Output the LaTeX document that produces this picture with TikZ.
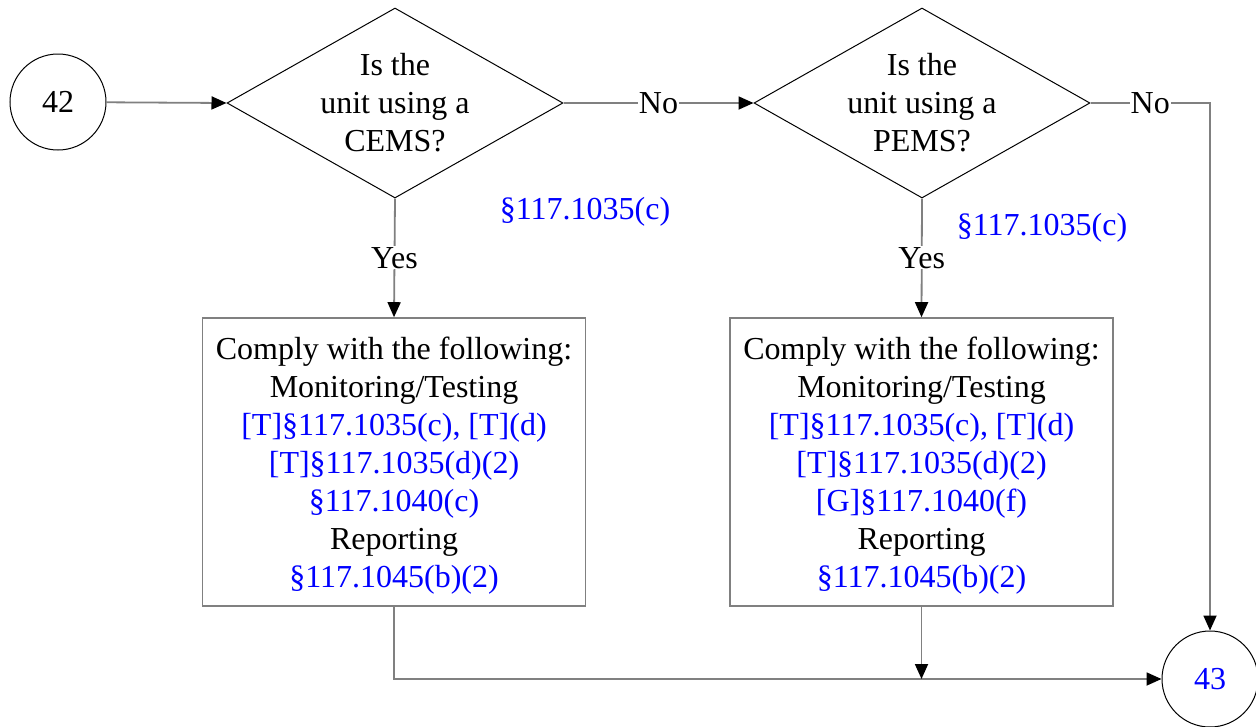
\documentclass[tikz,border=0pt]{standalone}
\usepackage{fontspec}
\setmainfont{Liberation Serif}
\usetikzlibrary{shapes.geometric,arrows.meta}
\definecolor{refblue}{RGB}{0,0,255}
\definecolor{linegray}{RGB}{128,128,128}
\tikzset{
  txt/.style={font=\fontsize{32}{38}\selectfont, align=center},
  term/.style={circle, draw=black, line width=1pt, minimum size=96pt, inner sep=0pt, txt},
  decision/.style={diamond, draw=black, line width=1pt, minimum width=336pt, minimum height=190pt, inner sep=0pt},
  actbox/.style={rectangle, draw=linegray, line width=1.6pt, minimum width=383pt, minimum height=288pt, inner sep=0pt},
  conn/.style={draw=linegray, line width=1.8pt, -{Triangle[length=15pt,width=13pt,color=black]}},
  lbl/.style={txt, fill=white, inner sep=1pt},
  ref/.style={txt, text=refblue}
}
\begin{document}
\begin{tikzpicture}[x=1pt,y=-1pt]
\useasboundingbox (0,0) rectangle (1256,726);
\node[term] (c42) at (58,102) {42};
\node[decision] (d1) at (395,103) {};
\node[txt] (t1) at (395,103) {Is the\\unit using a\\CEMS?};
\node[decision] (d2) at (922,103) {};
\node[txt] (t2) at (922,103) {Is the\\unit using a\\PEMS?};
\node[term, text=refblue] (c43) at (1210,679) {43};
\node[actbox] (b1) at (394,462) {};
\node[txt] (bt1) at (394,466) {Comply with the following:\\Monitoring/Testing\\\textcolor{refblue}{[T]§117.1035(c), [T](d)}\\\textcolor{refblue}{[T]§117.1035(d)(2)}\\\textcolor{refblue}{§117.1040(c)}\\Reporting\\\textcolor{refblue}{§117.1045(b)(2)}};
\node[actbox] (b2) at (921.5,462) {};
\node[txt] (bt2) at (921.5,466) {Comply with the following:\\Monitoring/Testing\\\textcolor{refblue}{[T]§117.1035(c), [T](d)}\\\textcolor{refblue}{[T]§117.1035(d)(2)}\\\textcolor{refblue}{[G]§117.1040(f)}\\Reporting\\\textcolor{refblue}{§117.1045(b)(2)}};
\node[ref] (r1) at (585,212) {§117.1035(c)};
\node[ref] (r2) at (1042,228) {§117.1035(c)};
\draw[conn] (c42) -- (d1.west);
\draw[conn] (d1.east) -- node[lbl] {No} (d2.west);
\draw[conn] (d2.east) -| node[lbl, pos=0.25] {No} (c43.north);
\draw[conn] (d1.south) -- node[lbl] {Yes} (b1.north);
\draw[conn] (d2.south) -- node[lbl] {Yes} (b2.north);
\draw[conn] (b1.south) |- (c43.west);
\coordinate (j) at (b2.south |- c43.west);
\draw[conn] (b2.south) -- (j);
\end{tikzpicture}
\end{document}
